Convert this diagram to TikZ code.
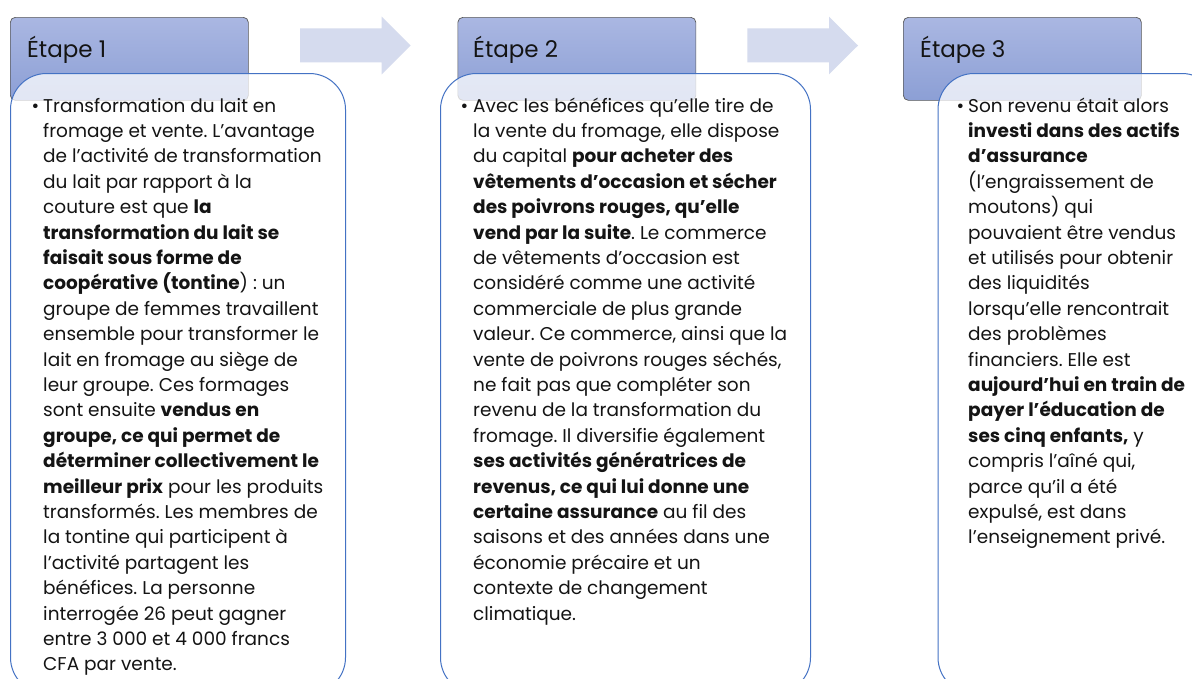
\documentclass[tikz,border=0pt]{standalone}
\usepackage{fontspec}
\setmainfont{Poppins}
\frenchspacing
\definecolor{hdrtop}{RGB}{170,183,226}
\definecolor{hdrbot}{RGB}{140,159,213}
\definecolor{boxblue}{RGB}{68,114,196}
\definecolor{arrowc}{RGB}{213,219,238}
\definecolor{txt}{RGB}{20,20,20}
\tikzset{
  header/.style={draw=gray!70!black, line width=0.7pt, rounded corners=5pt,
    top color=hdrtop, bottom color=hdrbot, anchor=north west, inner sep=0pt,
    minimum width=238pt, minimum height=83pt},
  content/.style={draw=boxblue, line width=1pt, rounded corners=36pt,
    fill=white, fill opacity=0.75, anchor=north west, inner sep=0pt},
  flow/.style={fill=arrowc},
  headtext/.style={font=\fontsize{23}{27}\selectfont, text=txt, anchor=base west, inner sep=0pt},
  body/.style={font=\fontsize{18.5}{25.4}\selectfont, text=txt, anchor=base west, inner sep=0pt},
}
\begin{document}
\begin{tikzpicture}[x=1pt,y=-1pt]
\useasboundingbox (0,0) rectangle (1192,678);
\clip (0,0) rectangle (1192,678);
\fill[white] (0,0) rectangle (1192,678);
% arrows
\fill[flow] (300,28.3) -- (381.7,28.3) -- (381.7,16.7) -- (410.7,45.5) -- (381.7,74.3) -- (381.7,62.3) -- (300,62.3) -- cycle;
\fill[flow] (747.3,28.3) -- (829,28.3) -- (829,16.7) -- (858,45.5) -- (829,74.3) -- (829,62.3) -- (747.3,62.3) -- cycle;
% headers
\node[header] (h1) at (10,17) {};
\node[header] (h2) at (457.5,17) {};
\node[header] (h3) at (903,17) {};
\node[headtext] (l1) at (27,57) {Étape 1};
\node[headtext] (l2) at (473,57) {Étape 2};
\node[headtext] (l3) at (920,57) {Étape 3};
% content boxes
\node[content, minimum width=335pt, minimum height=620pt] (c1) at (10,73) {};
\node[content, minimum width=370pt, minimum height=620pt] (c2) at (440,73) {};
\node[content, minimum width=280pt, minimum height=620pt] (c3) at (937.5,73) {};
% box 1 text
\node[body] (u1) at (31.5,112) {•};
\node[body] (t1) at (43,112) {\begin{minipage}[t]{330pt}\raggedright
Transformation du lait en\\
fromage et vente. L’avantage\\
de l’activité de transformation\\
du lait par rapport à la\\
couture est que \textbf{la}\\
\textbf{transformation du lait se}\\
\textbf{faisait sous forme de}\\
\textbf{coopérative (tontine}) : un\\
groupe de femmes travaillent\\
ensemble pour transformer le\\
lait en fromage au siège de\\
leur groupe. Ces formages\\
sont ensuite \textbf{vendus en}\\
\textbf{groupe, ce qui permet de}\\
\textbf{déterminer collectivement le}\\
\textbf{meilleur prix} pour les produits\\
transformés. Les membres de\\
la tontine qui participent à\\
l’activité partagent les\\
bénéfices. La personne\\
interrogée 26 peut gagner\\
entre 3 000 et 4 000 francs\\
CFA par vente.
\end{minipage}};
% box 2 text
\node[body] (u2) at (460.5,112) {•};
\node[body] (t2) at (473,112) {\begin{minipage}[t]{340pt}\raggedright
Avec les bénéfices qu’elle tire de\\
la vente du fromage, elle dispose\\
du capital \textbf{pour acheter des}\\
\textbf{vêtements d’occasion et sécher}\\
\textbf{des poivrons rouges, qu’elle}\\
\textbf{vend par la suite}. Le commerce\\
de vêtements d’occasion est\\
considéré comme une activité\\
commerciale de plus grande\\
valeur. Ce commerce, ainsi que la\\
vente de poivrons rouges séchés,\\
ne fait pas que compléter son\\
revenu de la transformation du\\
fromage. Il diversifie également\\
\textbf{ses activités génératrices de}\\
\textbf{revenus, ce qui lui donne une}\\
\textbf{certaine assurance} au fil des\\
saisons et des années dans une\\
économie précaire et un\\
contexte de changement\\
climatique.
\end{minipage}};
% box 3 text
\node[body] (u3) at (956.5,112) {•};
\node[body] (t3) at (968,112) {\begin{minipage}[t]{240pt}\raggedright
Son revenu était alors\\
\textbf{investi dans des actifs}\\
\textbf{d’assurance}\\
(l’engraissement de\\
moutons) qui\\
pouvaient être vendus\\
et utilisés pour obtenir\\
des liquidités\\
lorsqu’elle rencontrait\\
des problèmes\\
financiers. Elle est\\
\textbf{aujourd’hui en train de}\\
\textbf{payer l’éducation de}\\
\textbf{ses cinq enfants,} y\\
compris l’aîné qui,\\
parce qu’il a été\\
expulsé, est dans\\
l’enseignement privé.
\end{minipage}};
\end{tikzpicture}
\end{document}
